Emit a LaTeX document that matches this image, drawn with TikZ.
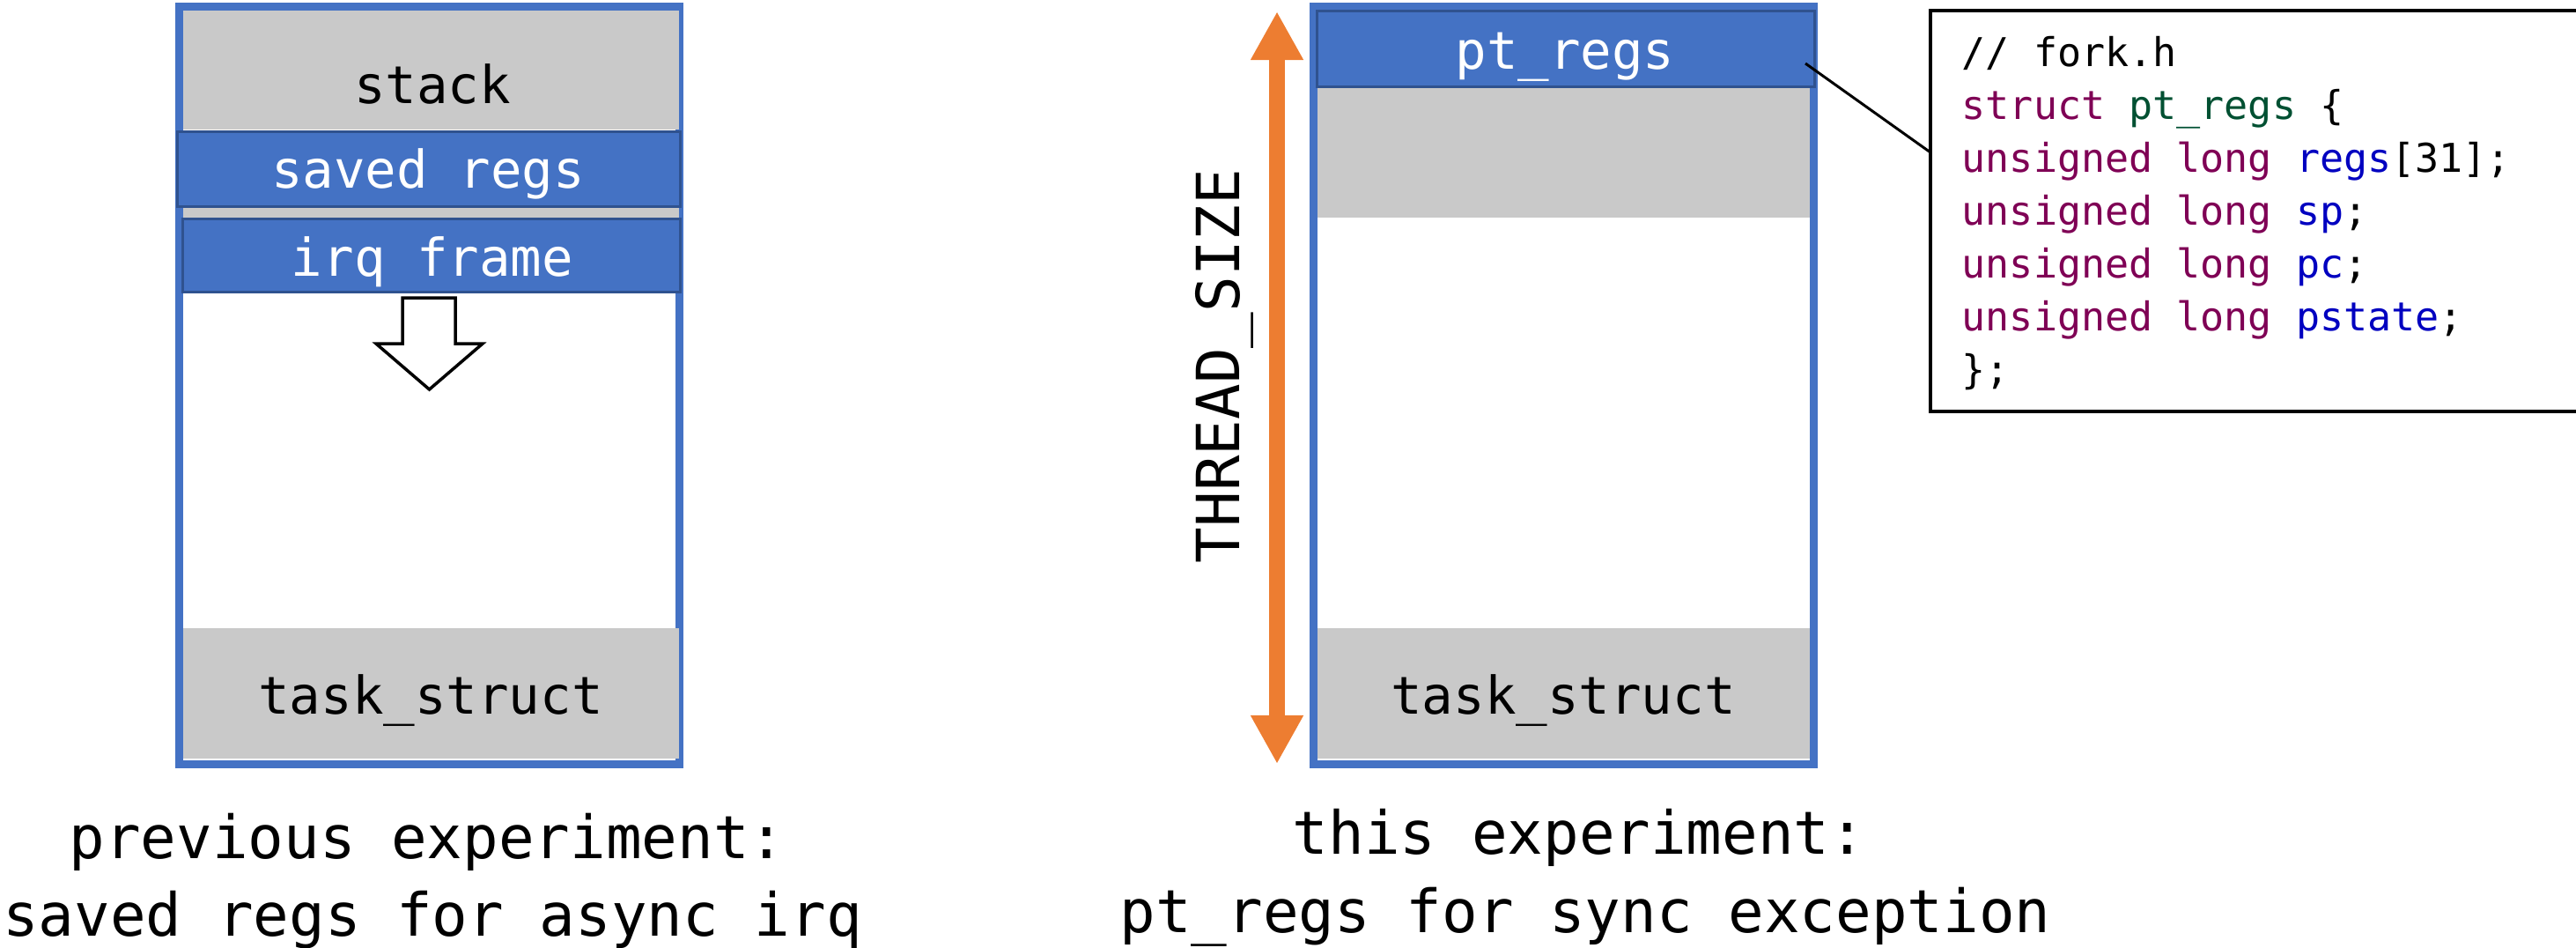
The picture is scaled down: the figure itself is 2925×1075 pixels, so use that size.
\documentclass[tikz,border=0pt]{standalone}
\usepackage{fontspec}
\setmonofont{DejaVu Sans Mono}
\usetikzlibrary{arrows.meta,fit,calc}
\definecolor{bblue}{HTML}{4472C4}
\definecolor{dblue}{HTML}{2F528F}
\definecolor{lgray}{HTML}{C9C9C9}
\definecolor{oran}{HTML}{ED7D31}
\definecolor{kw}{HTML}{7F0055}
\definecolor{ty}{HTML}{005032}
\definecolor{fld}{HTML}{0000C0}
\begin{document}
\begin{tikzpicture}[x=0.01cm,y=-0.01cm,
  frame/.style={draw=bblue, line width=0.09cm, inner sep=0pt, outer sep=0pt},
  graybox/.style={fill=lgray, draw=none, inner sep=0pt, outer sep=0pt},
  bluebox/.style={fill=bblue, draw=dblue, line width=0.03cm, inner sep=0pt, outer sep=0pt},
  big/.style={font=\ttfamily\fontsize{16.8pt}{20pt}\selectfont, inner sep=0pt, anchor=base},
  caption/.style={font=\ttfamily\fontsize{19.2pt}{23pt}\selectfont, inner sep=0pt, anchor=base},
  codetxt/.style={font=\ttfamily\fontsize{12.8pt}{15pt}\selectfont, inner sep=0pt, anchor=base west},
  thinline/.style={draw=black, line width=0.03cm},
  orangearrow/.style={draw=oran, line width=0.18cm,
     {Triangle[length=0.55cm,width=0.56cm]}-{Triangle[length=0.55cm,width=0.56cm]}},
  blockarrow/.style={draw=black, fill=white, line width=0.035cm, line join=miter}
]
\useasboundingbox (0,0) rectangle (2925,1075);
\clip (0,0) rectangle (2925,1075);

% ---------- left stack ----------
\node[frame, fit={(203.5,7.5) (771.5,867.5)}] (lframe) {};
\node[graybox, fit={(208,12) (771,147)}] (stack) {};
\node[graybox, fit={(208,235) (771,247)}] (gap) {};
\node[bluebox, fit={(201,149) (772,234.5)}] (saved) {};
\node[bluebox, fit={(207.5,248) (772,331.5)}] (irq) {};
\node[graybox, fit={(208,713) (771,861)}] (ltask) {};

\node[big] (stacktxt) at (491,117) {stack};
\node[big, text=white] (savedtxt) at (486,213) {saved regs};
\node[big, text=white] (irqtxt) at (491,313) {irq frame};
\node[big] (ltasktxt) at (489,810) {task\_struct};

\draw[blockarrow] (457,338) -- (517,338) -- (517,390) -- (548,390) -- (487.5,442)
   -- (427,390) -- (457,390) -- cycle;

% ---------- right stack ----------
\node[frame, fit={(1491.5,7.5) (2059.5,867.5)}] (rframe) {};
\node[graybox, fit={(1496,100) (2055,247)}] (rgray) {};
\node[bluebox, fit={(1495.5,12.5) (2060.5,98.5)}] (ptregs) {};
\node[graybox, fit={(1496,713) (2055,861)}] (rtask) {};

\node[big, text=white] (ptregstxt) at (1777,78) {pt\_regs};
\node[big] (rtasktxt) at (1775,810) {task\_struct};

\coordinate (tstop) at (1450,13);
\coordinate (tsbot) at (1450,867);
\draw[orangearrow] (tstop) -- (tsbot);
\node[caption, rotate=90] (tsize) at (1407,415.5) {THREAD\_SIZE};

% ---------- code box ----------
\node[draw, line width=0.04cm, inner sep=0pt, outer sep=0pt, anchor=north west,
      minimum width=8cm, minimum height=4.55cm] (codebox) at (2192,12) {};
\coordinate (ptpin) at (2050,72);
\coordinate (cbpin) at ($(codebox.north west)+(0,161)$);
\draw[thinline] (ptpin) -- (cbpin);

\node[codetxt] (c1) at (2227,75) {// fork.h};
\node[codetxt] (c2) at (2227,135) {\textcolor{kw}{struct} \textcolor{ty}{pt\_regs} \{};
\node[codetxt] (c3) at (2227,195) {\textcolor{kw}{unsigned long} \textcolor{fld}{regs}[31];};
\node[codetxt] (c4) at (2227,255) {\textcolor{kw}{unsigned long} \textcolor{fld}{sp};};
\node[codetxt] (c5) at (2227,315) {\textcolor{kw}{unsigned long} \textcolor{fld}{pc};};
\node[codetxt] (c6) at (2227,375) {\textcolor{kw}{unsigned long} \textcolor{fld}{pstate};};
\node[codetxt] (c7) at (2227,435) {\};};

% ---------- captions ----------
\node[caption] (cap1a) at (485,974) {previous experiment:};
\node[caption] (cap1b) at (491,1062) {saved regs for async irq};
\node[caption] (cap2a) at (1793,969) {this experiment:};
\node[caption] (cap2b) at (1800,1058) {pt\_regs for sync exception};
\end{tikzpicture}
\end{document}
